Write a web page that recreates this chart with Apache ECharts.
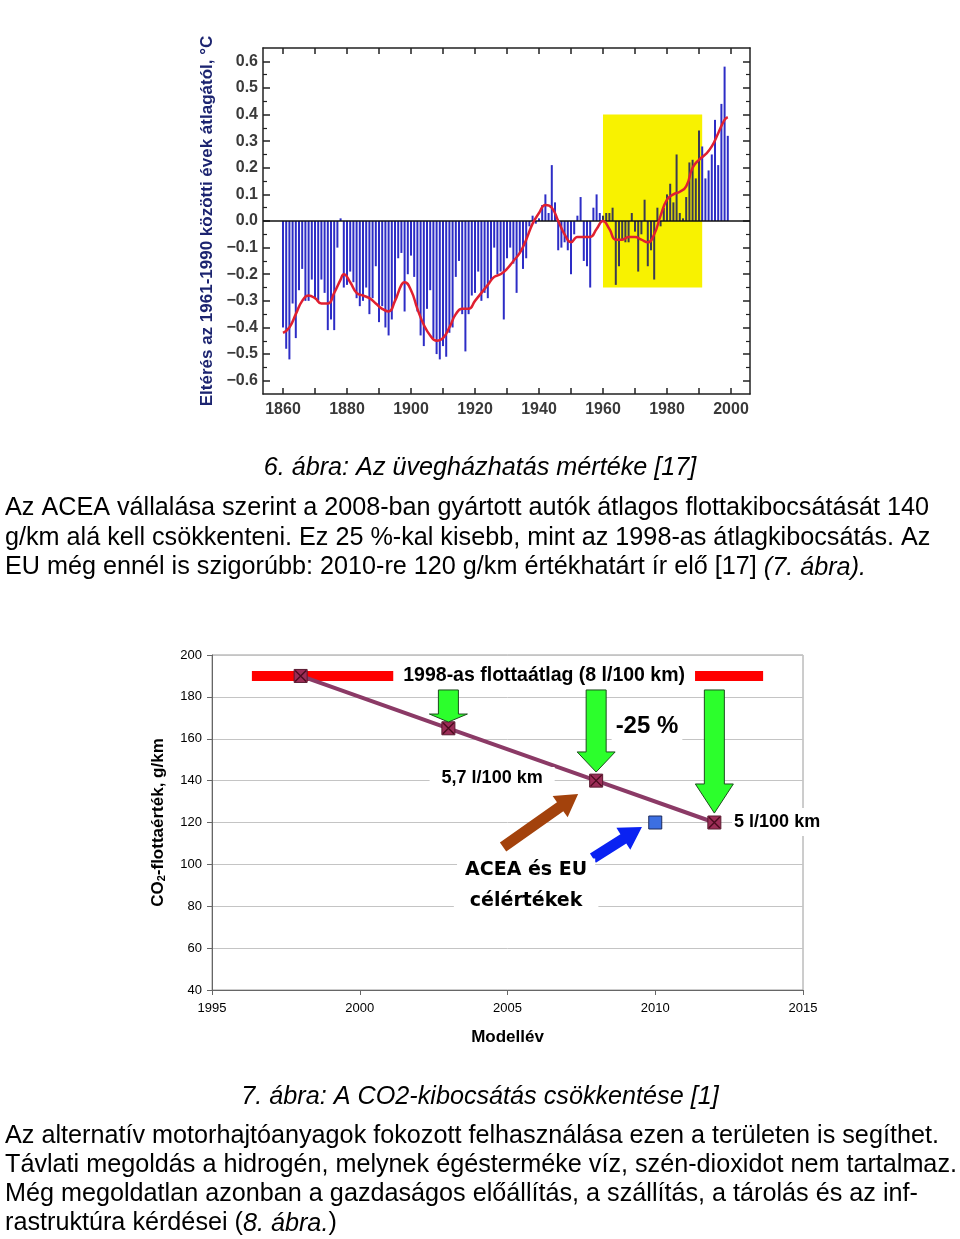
<!DOCTYPE html>
<html><head><meta charset="utf-8">
<script src="https://cdn.jsdelivr.net/npm/echarts@6/dist/echarts.min.js"></script>
<style>html,body{margin:0;padding:0;background:#fff}#c{width:960px;height:1239px}</style>
</head><body><div id="c"></div><script>
// ---------- Chart 6: temperature anomaly ----------
const tempStartYear = 1860;
const tempAnomaly = [
 -0.40,-0.48,-0.52,-0.31,-0.44,-0.26,-0.18,-0.30,-0.30,-0.22,
 -0.29,-0.30,-0.22,-0.27,-0.41,-0.37,-0.41,-0.10, 0.01,-0.25,
 -0.24,-0.19,-0.23,-0.29,-0.32,-0.30,-0.25,-0.35,-0.29,-0.17,
 -0.38,-0.32,-0.40,-0.43,-0.37,-0.30,-0.14,-0.12,-0.34,-0.20,
 -0.13,-0.21,-0.34,-0.43,-0.47,-0.33,-0.26,-0.44,-0.50,-0.52,
 -0.47,-0.51,-0.42,-0.40,-0.21,-0.15,-0.35,-0.49,-0.35,-0.28,
 -0.27,-0.19,-0.30,-0.27,-0.29,-0.22,-0.10,-0.20,-0.19,-0.37,
 -0.14,-0.10,-0.16,-0.27,-0.12,-0.18,-0.14,-0.02, 0.02,-0.01,
  0.01, 0.06, 0.10, 0.03, 0.21, 0.07,-0.11,-0.10,-0.08,-0.11,
 -0.20,-0.05, 0.02, 0.09,-0.15,-0.17,-0.25, 0.05, 0.10, 0.03,
  0.02, 0.03, 0.03, 0.05,-0.24,-0.17,-0.07,-0.08,-0.08, 0.03,
 -0.04,-0.19,-0.05, 0.08,-0.17,-0.11,-0.22, 0.05,-0.02, 0.05,
  0.10, 0.14, 0.07, 0.25, 0.03, 0.01, 0.09, 0.22, 0.23, 0.16,
  0.34, 0.28, 0.16, 0.19, 0.25, 0.38, 0.21, 0.44, 0.58, 0.32
];
const smoothYears = [1860,1862,1864,1866,1868,1870,1872,1874,1876,1878,1879,1881,1883,1885,1887,1889,1891,1893,1895,1897,1898,1900,1902,1904,1906,1908,1910,1912,1914,1916,1918,1920,1922,1924,1926,1928,1930,1932,1934,1936,1938,1940,1942,1944,1946,1948,1950,1952,1954,1956,1958,1960,1962,1964,1966,1968,1970,1972,1974,1976,1978,1980,1982,1984,1986,1988,1990,1992,1994,1996,1998,1999];
const smoothValues = [-0.42,-0.40,-0.35,-0.30,-0.28,-0.29,-0.31,-0.31,-0.27,-0.22,-0.20,-0.23,-0.27,-0.28,-0.29,-0.31,-0.33,-0.34,-0.30,-0.24,-0.23,-0.26,-0.33,-0.39,-0.43,-0.45,-0.44,-0.40,-0.35,-0.33,-0.33,-0.30,-0.27,-0.24,-0.21,-0.20,-0.18,-0.15,-0.12,-0.07,-0.01,0.03,0.06,0.05,0.00,-0.05,-0.08,-0.06,-0.06,-0.06,-0.03,0.00,-0.03,-0.07,-0.07,-0.06,-0.06,-0.07,-0.08,-0.05,0.02,0.08,0.10,0.11,0.13,0.20,0.23,0.25,0.28,0.33,0.38,0.39];
const highlightYears = [1960, 1991];
const highlightValues = [-0.25, 0.40];
const tempXLabels = [1860,1880,1900,1920,1940,1960,1980,2000];
const tempXTicks = [1860,1870,1880,1890,1900,1910,1920,1930,1940,1950,1960,1970,1980,1990,2000];
const tempYLabels = [-0.6,-0.5,-0.4,-0.3,-0.2,-0.1,0,0.1,0.2,0.3,0.4,0.5,0.6];
const tempYMinor = [-0.55,-0.45,-0.35,-0.25,-0.15,-0.05,0.05,0.15,0.25,0.35,0.45,0.55];

// ---------- Chart 7: CO2 ----------
const co2Years = [1998, 2003, 2008, 2012];
const co2Values = [190, 165, 140, 120];
const fleetAvgSpan = [1996.35, 2013.65];
const fleetAvgValue = 190;
const euTargetYear = 2010;
const euTargetValue = 120;
const greenArrows = [[2003,183.3,171.8,168.0],[2008,183.3,153.7,144.1],[2012,183.3,138.4,124.5]];
const slantArrows = [[2004.85,108.3,2007.39,133.6],[2007.89,103.0,2009.55,117.8]];
const annotationTexts = ['1998-as flottaátlag (8 l/100 km)','-25 %','5,7 l/100 km','5 l/100 km','ACEA és EU','célértékek'];
const annotationX = [2006.24, 2009.72, 2004.48, 2012.6, 2005.63, 2005.63];
const annotationY = [190, 166.1, 141.2, 120.2, 97.3, 82.5];

// ---------- styles ----------
const body = '"Liberation Sans", Arial, sans-serif';
const heavy = '"DejaVu Sans", "Liberation Sans", sans-serif';
const slantColors = ['#a3420c', '#0a22f2'];
const annoStyles = [
  {fontSize:19.5, font:body, align:'center', padding:[3,10]},
  {fontSize:24, font:body, align:'center', padding:[2,4]},
  {fontSize:18, font:body, align:'center', padding:[2,12]},
  {fontSize:18, font:body, align:'left', padding:[5,2]},
  {fontSize:19, font:heavy, align:'center', padding:[2,8]},
  {fontSize:19, font:heavy, align:'center', padding:[2,16]}
];
const tickFont = {fontFamily:'"Liberation Sans Narrow","Liberation Sans",Arial,sans-serif', fontWeight:'bold', fontSize:16, color:'#3a3a3a'};
const BODY_SIZE = 25.2;

const chart = echarts.init(document.getElementById('c'));
const fmtT = v => (v < 0 ? '\u2212' : '') + Math.abs(v).toFixed(1);

const barData = tempAnomaly.map((v, i) => [tempStartYear + i, v]);
const smoothData = smoothYears.map((y, i) => [y, smoothValues[i]]);
const co2Data = co2Years.map((y, i) => [y, co2Values[i]]);
const annoData = annotationTexts.map((t, i) => ({
  value: [annotationX[i], annotationY[i]],
  label: {show:true, position:'inside', formatter:t, fontFamily:annoStyles[i].font, fontWeight:'bold', color:'#000',
          backgroundColor:'#fff', fontSize:annoStyles[i].fontSize, align:annoStyles[i].align,
          verticalAlign:'middle', padding:annoStyles[i].padding, opacity:1}
}));

const rn = {font:BODY_SIZE + 'px ' + body, fill:'#000'};
const ri = {font:'italic ' + BODY_SIZE + 'px ' + body, fill:'#000'};
function bodyLine(y, text, rich) {
  return {type:'text', left:5, top:y - 14, style: rich ? {text, rich} : {text, font:BODY_SIZE + 'px ' + body, fill:'#000'}};
}

const option = {
  animation:false,
  backgroundColor:'#fff',
  grid:[
    {left:263, top:48, width:487, height:346},
    {left:212, top:655, width:591, height:335, show:true, borderColor:'#9a9a9a', borderWidth:1}
  ],
  xAxis:[
    {gridIndex:0, type:'value', min:1853.75, max:2005.94, position:'bottom',
     axisLine:{onZero:false, lineStyle:{color:'#222', width:1.5}},
     axisTick:{inside:true, length:6, customValues:tempXTicks, lineStyle:{color:'#222', width:1.5}},
     axisLabel:{customValues:tempXLabels, margin:8, ...tickFont, formatter:v=>String(v)},
     splitLine:{show:false}},
    {gridIndex:0, type:'value', min:1853.75, max:2005.94, position:'top',
     axisLine:{onZero:false, lineStyle:{color:'#222', width:1.5}},
     axisTick:{inside:true, length:6, customValues:tempXTicks, lineStyle:{color:'#222', width:1.5}},
     axisLabel:{show:false}, splitLine:{show:false}},
    {gridIndex:1, type:'value', min:1995, max:2015, interval:5,
     axisLine:{onZero:false, lineStyle:{color:'#666'}},
     axisTick:{length:5, lineStyle:{color:'#666'}},
     axisLabel:{fontSize:13, fontFamily:body, color:'#000', margin:12, formatter:v=>String(v)},
     splitLine:{show:false},
     name:'Modellév', nameLocation:'middle', nameGap:39,
     nameTextStyle:{fontSize:17, fontWeight:'bold', fontFamily:body, color:'#000'}}
  ],
  yAxis:[
    {gridIndex:0, type:'value', min:-0.65, max:0.65, position:'left',
     axisLine:{onZero:false, lineStyle:{color:'#222', width:1.5}},
     axisTick:{inside:true, length:7, customValues:tempYLabels, lineStyle:{color:'#222', width:1.5}},
     axisLabel:{customValues:tempYLabels, margin:5, ...tickFont, formatter:fmtT},
     splitLine:{show:false},
     name:'Eltérés az 1961-1990 közötti évek átlagától, °C', nameLocation:'middle', nameGap:42, nameRotate:90,
     nameTextStyle:{fontSize:17, fontWeight:'bold', fontFamily:body, color:'#1c2470'}},
    {gridIndex:0, type:'value', min:-0.65, max:0.65, position:'left',
     axisLine:{show:false, onZero:false},
     axisTick:{inside:true, length:4, customValues:tempYMinor, lineStyle:{color:'#222', width:1.2}},
     axisLabel:{show:false}, splitLine:{show:false}},
    {gridIndex:0, type:'value', min:-0.65, max:0.65, position:'right',
     axisLine:{onZero:false, lineStyle:{color:'#222', width:1.5}},
     axisTick:{inside:true, length:7, customValues:tempYLabels, lineStyle:{color:'#222', width:1.5}},
     axisLabel:{show:false}, splitLine:{show:false}},
    {gridIndex:0, type:'value', min:-0.65, max:0.65, position:'right',
     axisLine:{show:false, onZero:false},
     axisTick:{inside:true, length:4, customValues:tempYMinor, lineStyle:{color:'#222', width:1.2}},
     axisLabel:{show:false}, splitLine:{show:false}},
    {gridIndex:1, type:'value', min:40, max:200, interval:20,
     axisLine:{show:true, onZero:false, lineStyle:{color:'#666'}},
     axisTick:{show:true, length:5, lineStyle:{color:'#666'}},
     axisLabel:{fontSize:13, fontFamily:body, color:'#000', margin:10},
     splitLine:{lineStyle:{color:'#c4c4c4'}},
     name:'{n|CO}{s|2}{n|-flottaérték, g/km}', nameLocation:'middle', nameGap:45, nameRotate:90,
     nameTextStyle:{rich:{
       n:{fontSize:17, fontWeight:'bold', fontFamily:body, color:'#000'},
       s:{fontSize:11, fontWeight:'bold', fontFamily:body, color:'#000', verticalAlign:'bottom', padding:[7,0,0,0]}}}}
  ],
  series:[
    {type:'line', xAxisIndex:0, yAxisIndex:0, data:[], z:1, silent:true,
     markArea:{silent:true, itemStyle:{color:'#f8f200'},
       data:[[{coord:[highlightYears[0], highlightValues[0]]},{coord:[highlightYears[1], highlightValues[1]]}]]}},
    {type:'bar', xAxisIndex:0, yAxisIndex:0, data:barData, barWidth:2, z:3,
     itemStyle:{color:p => (p.value[0] >= highlightYears[0] && p.value[0] <= 1990) ? '#3b3b52' : '#2d2dc6'},
     markLine:{silent:true, symbol:'none', label:{show:false}, lineStyle:{color:'#111', width:1.6, type:'solid'},
       data:[{yAxis:0}]}},
    {type:'line', xAxisIndex:0, yAxisIndex:0, data:smoothData, smooth:0.5, symbol:'none', z:5,
     lineStyle:{color:'#e02030', width:2.5}},

    {type:'line', xAxisIndex:2, yAxisIndex:4, data:fleetAvgSpan.map(x=>[x, fleetAvgValue]), symbol:'none', z:3,
     lineStyle:{color:'#ff0000', width:10, cap:'butt'}},
    {type:'line', xAxisIndex:2, yAxisIndex:4, data:co2Data, z:4,
     lineStyle:{color:'#8b3a66', width:4},
     symbol:'rect', symbolSize:13, itemStyle:{color:'#9c2d57', borderColor:'#5a1a30', borderWidth:1}},
    {type:'scatter', xAxisIndex:2, yAxisIndex:4, data:co2Data, z:6,
     symbol:'path://M0,0L10,10M10,0L0,10', symbolSize:11,
     itemStyle:{color:'rgba(0,0,0,0)', borderColor:'#4a0c1e', borderWidth:1.4, opacity:1}},
    {type:'scatter', xAxisIndex:2, yAxisIndex:4, data:[[euTargetYear, euTargetValue]], z:6,
     symbol:'rect', symbolSize:13, itemStyle:{color:'#3c6fe2', borderColor:'#1c2a5a', borderWidth:1, opacity:1}},
    {type:'custom', xAxisIndex:2, yAxisIndex:4, data:greenArrows, z:7,
     renderItem:(params, api) => {
       const x = api.value(0);
       const top = api.coord([x, api.value(1)]), base = api.coord([x, api.value(2)]), tip = api.coord([x, api.value(3)]);
       const cx = top[0], sw = 10, hw = 19;
       return {type:'polygon', shape:{points:[[cx-sw,top[1]],[cx+sw,top[1]],[cx+sw,base[1]],[cx+hw,base[1]],[cx,tip[1]],[cx-hw,base[1]],[cx-sw,base[1]]]},
               style:{fill:'#2cff2c', stroke:'#1d4d1d', lineWidth:1}};
     }},
    {type:'custom', xAxisIndex:2, yAxisIndex:4, data:slantArrows, z:7,
     renderItem:(params, api) => {
       const a = api.coord([api.value(0), api.value(1)]), b = api.coord([api.value(2), api.value(3)]);
       const dx = b[0]-a[0], dy = b[1]-a[1], L = Math.hypot(dx, dy);
       const ux = dx/L, uy = dy/L, nx = -uy, ny = ux;
       const sw = 5.5, hw = 13, hl = 22;
       const bx = b[0]-ux*hl, by = b[1]-uy*hl;
       const pts = [[a[0]+nx*sw,a[1]+ny*sw],[bx+nx*sw,by+ny*sw],[bx+nx*hw,by+ny*hw],[b[0],b[1]],
                    [bx-nx*hw,by-ny*hw],[bx-nx*sw,by-ny*sw],[a[0]-nx*sw,a[1]-ny*sw]];
       return {type:'polygon', shape:{points:pts}, style:{fill:slantColors[params.dataIndex]}};
     }},
    {type:'scatter', xAxisIndex:2, yAxisIndex:4, data:annoData, symbolSize:1, z:10,
     itemStyle:{color:'rgba(0,0,0,0)', opacity:1}}
  ],
  graphic:[
    {type:'text', left:'center', top:455, style:{text:'6. ábra: Az üvegházhatás mértéke [17]', font:'italic ' + BODY_SIZE + 'px ' + body, fill:'#000'}},
    bodyLine(510, 'Az ACEA vállalása szerint a 2008-ban gyártott autók átlagos flottakibocsátását 140'),
    bodyLine(540, 'g/km alá kell csökkenteni. Ez 25 %-kal kisebb, mint az 1998-as átlagkibocsátás. Az'),
    bodyLine(569, '{n|EU még ennél is szigorúbb: 2010-re 120 g/km értékhatárt ír elő [17] }{i|(7. ábra).}', {n:rn, i:ri}),
    {type:'text', left:'center', top:1084, style:{text:'7. ábra: A CO2-kibocsátás csökkentése [1]', font:'italic ' + BODY_SIZE + 'px ' + body, fill:'#000'}},
    bodyLine(1138, 'Az alternatív motorhajtóanyagok fokozott felhasználása ezen a területen is segíthet.'),
    bodyLine(1167, 'Távlati megoldás a hidrogén, melynek égésterméke víz, szén-dioxidot nem tartalmaz.'),
    bodyLine(1196, 'Még megoldatlan azonban a gazdaságos előállítás, a szállítás, a tárolás és az inf-'),
    bodyLine(1225, '{n|rastruktúra kérdései (}{i|8. ábra.}{n|)}', {n:rn, i:ri})
  ]
};
chart.setOption(option);
</script></body></html>
